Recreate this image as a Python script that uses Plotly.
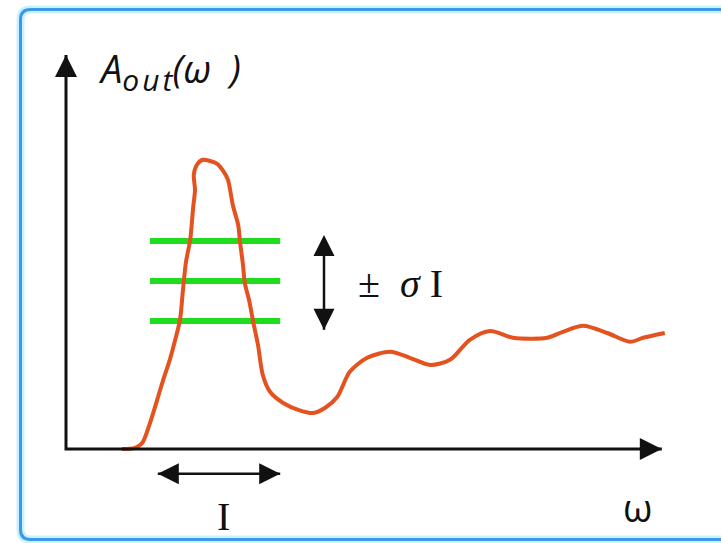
import plotly.graph_objects as go

# Output amplitude spectrum A_out(omega), sampled along the trace
omega = [0.93, 1.15, 1.27, 1.40, 1.52, 1.62, 1.73, 1.82, 1.90, 1.95, 2.00, 2.07,
         2.12, 2.15, 2.13, 2.18, 2.28, 2.40, 2.52, 2.63, 2.70, 2.78, 2.87, 2.90,
         2.95, 2.98, 3.05, 3.12, 3.20, 3.28, 3.40, 3.62, 3.87, 4.12, 4.32, 4.52,
         4.73, 5.02, 5.40, 5.73, 6.07, 6.40, 6.73, 7.07, 7.45, 8.02, 8.28, 8.62,
         9.02, 9.40, 9.62, 9.98]
a_out = [0.00, 0.03, 0.15, 0.65, 1.23, 1.73, 2.23, 2.73, 3.23, 3.98, 4.68, 5.23,
         6.05, 6.48, 6.85, 7.10, 7.23, 7.20, 7.13, 6.93, 6.73, 6.10, 5.60, 5.18,
         4.60, 4.15, 3.73, 3.18, 2.60, 1.85, 1.43, 1.15, 0.98, 0.90, 1.03, 1.30,
         1.93, 2.28, 2.43, 2.28, 2.10, 2.23, 2.73, 2.95, 2.78, 2.78, 2.93, 3.08,
         2.90, 2.68, 2.78, 2.90]

# Threshold band: mean level and +/- sigma
band_levels = [5.2, 4.2, 3.2]
band_span = [1.40, 3.57]

# Width interval I under the peak
interval = [1.53, 3.57]
interval_y = -0.62

# Vertical +/- sigma marker
sigma_x = 4.30
sigma_span = [2.98, 5.35]

# Axis extents
x_tip = 9.93
y_tip = 9.85

X_RANGE = [-1.1, 10.9167]
Y_RANGE = [-2.35, 11.225]

BLACK = "#111111"
fig = go.Figure()

# green threshold lines
for lvl in band_levels:
    fig.add_trace(go.Scatter(
        x=band_span, y=[lvl, lvl], mode="lines",
        line=dict(color="#1fdc1f", width=6), hoverinfo="skip", showlegend=False))

# spectrum curve
fig.add_trace(go.Scatter(
    x=omega, y=a_out, mode="lines",
    line=dict(color="#e4521f", width=4, shape="spline", smoothing=0.8),
    hoverinfo="skip", showlegend=False))


def arrow_line(xs, ys, symbols, sizes, width=3):
    """Straight segment with arrowhead markers whose tips sit on the end points."""
    fig.add_trace(go.Scatter(
        x=xs, y=ys, mode="lines+markers",
        line=dict(color=BLACK, width=width),
        marker=dict(symbol=symbols, size=sizes, color=BLACK, opacity=1,
                    line=dict(width=0)),
        hoverinfo="skip", showlegend=False))


# axes: horizontal omega axis and vertical amplitude axis meeting at the origin
arrow_line([x_tip, 0, 0], [0, 0, y_tip], ["arrow-right", "circle", "arrow-up"], [22, 0, 22], width=3)

# double-headed markers: +/- sigma and the interval I
arrow_line([sigma_x, sigma_x], sigma_span, ["arrow-down", "arrow-up"], [21, 21], width=2.5)
arrow_line(interval, [interval_y, interval_y], ["arrow-left", "arrow-right"], [21, 21], width=2.5)

# labels
fig.add_annotation(x=0.50, y=9.45, xref="x", yref="y", xanchor="left", yanchor="middle",
                   text="<i>A<sub><span style='font-size:30px'>o\u200au\u200at</span></sub>"
                        "(ω\u2002)</i>",
                   showarrow=False, font=dict(family="Open Sans", size=38, color=BLACK))
fig.add_annotation(x=5.58, y=4.15, xref="x", yref="y", xanchor="center", yanchor="middle",
                   text="±  <i>σ</i> I", showarrow=False,
                   font=dict(family="Liberation Serif", size=40, color=BLACK))
fig.add_annotation(x=2.62, y=-1.68, xref="x", yref="y", xanchor="center", yanchor="middle",
                   text="I", showarrow=False,
                   font=dict(family="Liberation Serif", size=40, color=BLACK))
fig.add_annotation(x=9.53, y=-1.45, xref="x", yref="y", xanchor="center", yanchor="middle",
                   text="ω", showarrow=False,
                   font=dict(family="Open Sans", size=38, color=BLACK))

# blue frame with rounded left corners, running off the right edge
W, H = 721, 543


def px(x):
    return x / W


def py(y):
    return 1 - y / H


left, top, bottom, r = 20.5, 9.5, 539.5, 10
frame = (f"M {px(760)},{py(top)} L {px(left + r)},{py(top)} "
         f"Q {px(left)},{py(top)} {px(left)},{py(top + r)} "
         f"L {px(left)},{py(bottom - r)} "
         f"Q {px(left)},{py(bottom)} {px(left + r)},{py(bottom)} L {px(760)},{py(bottom)}")
fig.add_shape(type="path", path=frame, xref="paper", yref="paper",
              line=dict(color="#c9f1ff", width=8), layer="below")
fig.add_shape(type="path", path=frame, xref="paper", yref="paper",
              line=dict(color="#3b9ae6", width=3), layer="below")

fig.update_layout(
    width=W, height=H, margin=dict(l=0, r=0, t=0, b=0),
    paper_bgcolor="white", plot_bgcolor="white",
    xaxis=dict(range=X_RANGE, visible=False, fixedrange=True),
    yaxis=dict(range=Y_RANGE, visible=False, fixedrange=True),
    showlegend=False,
)

fig.write_html("out.html")
